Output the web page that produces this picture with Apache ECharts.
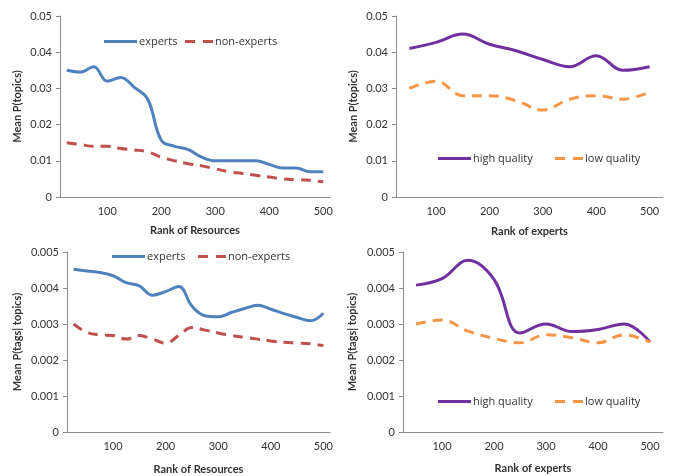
<!DOCTYPE html>
<html><head><meta charset="utf-8">
<script src="https://cdn.jsdelivr.net/npm/echarts@6/dist/echarts.min.js"></script>
<style>html,body{margin:0;padding:0;background:#fff}#c{width:673px;height:476px}</style>
</head><body><div id="c"></div>
<script>
// categories
const ranksResources = ['25','50','75','100','125','150','175','200','225','250','275','300','325','350','375','400','425','450','475','500'];
const ranksExperts = ['50','100','150','200','250','300','350','400','450','500'];
// top-left: Mean P(topics) by rank of resources
const tlExperts = [0.035,0.0345,0.036,0.032,0.033,0.0303,0.027,0.0157,0.014,0.0131,0.011,0.010,0.010,0.010,0.010,0.009,0.008,0.008,0.007,0.007];
const tlNonExperts = [0.015,0.0145,0.014,0.014,0.0134,0.013,0.0125,0.011,0.010,0.0092,0.0086,0.0078,0.0070,0.0065,0.0060,0.0055,0.0050,0.0048,0.0046,0.0042];
// top-right: Mean P(topics) by rank of experts
const trHigh = [0.041,0.0427,0.045,0.0422,0.0404,0.038,0.036,0.039,0.035,0.036];
const trLow = [0.030,0.032,0.028,0.028,0.0266,0.024,0.027,0.028,0.027,0.029];
// bottom-left: Mean P(tags|topics) by rank of resources
const blExperts = [0.00452,0.00447,0.00443,0.00434,0.00415,0.00406,0.0038,0.0039,0.00404,0.0035,0.00323,0.0032,0.00332,0.00343,0.00352,0.00341,0.00329,0.00318,0.00309,0.0033];
const blNonExperts = [0.003,0.00277,0.0027,0.00268,0.00258,0.00268,0.00258,0.00247,0.00268,0.0029,0.00283,0.00275,0.00268,0.00263,0.00258,0.00253,0.00249,0.00247,0.00245,0.0024];
// bottom-right: Mean P(tags|topics) by rank of experts
const brHigh = [0.00408,0.00426,0.00477,0.00424,0.00275,0.003,0.00279,0.00285,0.003,0.0025];
const brLow = [0.003,0.00311,0.0028,0.0026,0.00248,0.0027,0.00262,0.00248,0.0027,0.0025];
// tick labels
const topTicks = {min:0,max:0.05,interval:0.01};
const botTicks = {min:0,max:0.005,interval:0.001};

const FONT = 'Lato';
const LFONT = 'Open Sans';
const TXT = '#333';
const AX = '#8c8c8c';
const BLUE = '#4F81BD', RED = '#C0504D', PURPLE = '#7030A0', ORANGE = '#F79646';
const SOLID_ICON = 'path://M0,0h33v3h-33z';
const DASH_ICON = 'path://M0,0h10v3h-10z M18,0h10v3h-10z';

const grids = [
  {left:60, right:343, top:16, bottom:279},
  {left:396, right:10, top:16, bottom:279},
  {left:67, right:343, top:252, bottom:43},
  {left:403, right:10, top:252, bottom:44}
];
function xAx(idx, cats, name, gap){
  return {type:'category', gridIndex:idx, data:cats, boundaryGap:true,
    name:name, nameLocation:'middle', nameGap:gap,
    nameTextStyle:{fontFamily:FONT,fontSize:11,fontWeight:'bold',color:TXT},
    axisLine:{lineStyle:{color:AX}},
    axisTick:{interval:0, length:4, lineStyle:{color:AX}},
    axisLabel:{interval:(i,v)=> (+v)%100===0, fontFamily:FONT, fontSize:11, color:TXT, margin:9},
    splitLine:{show:false}};
}
function yAx(idx, t, dec, name, gap){
  return {type:'value', gridIndex:idx, min:t.min, max:t.max, interval:t.interval,
    name:name, nameLocation:'middle', nameGap:gap, nameRotate:90,
    nameTextStyle:{fontFamily:FONT,fontSize:11,fontWeight:'bold',color:TXT},
    axisLine:{show:true, lineStyle:{color:AX}},
    axisTick:{show:true, length:4, lineStyle:{color:AX}},
    axisLabel:{formatter:v=> v===0?'0':v.toFixed(dec), fontFamily:FONT, fontSize:11, color:TXT, margin:8},
    splitLine:{show:false}};
}
function ser(name, idx, data, color, dashed){
  return {name:name, type:'line', xAxisIndex:idx, yAxisIndex:idx, data:data, smooth:0.4,
    symbol:'none', lineStyle:{color:color, width:3, type: dashed?[10,7]:'solid'}, itemStyle:{color:color}};
}
function leg(name, dashed, left, cy){
  return {data:[{name:name, icon: dashed?DASH_ICON:SOLID_ICON}], left:left, top:cy-6,
    itemWidth: dashed?28:33, itemHeight:3, padding:0, selectedMode:false,
    textStyle:{fontFamily:LFONT,fontSize:11,color:TXT, padding:[0,0,0,-3]}};
}
const chart = echarts.init(document.getElementById('c'), null, {renderer:'canvas'});
chart.setOption({
  backgroundColor:'#fff',
  animation:false,
  grid:grids,
  legend:[
    leg('experts',false,104,42), leg('non-experts',true,185,42),
    leg('high quality',false,438,159), leg('low quality',true,555,159),
    leg('experts ',false,112,257), leg('non-experts ',true,198,257),
    leg('high quality ',false,438,402), leg('low quality ',true,555,402)
  ],
  xAxis:[xAx(0,ranksResources,'Rank of Resources',28), xAx(1,ranksExperts,'Rank of experts',29),
         xAx(2,ranksResources,'Rank of Resources',32), xAx(3,ranksExperts,'Rank of experts',31)],
  yAxis:[yAx(0,topTicks,2,'Mean P(topics)',37), yAx(1,topTicks,2,'Mean P(topics)',37),
         yAx(2,botTicks,3,'Mean P(tags| topics)',44), yAx(3,botTicks,3,'Mean P(tags| topics)',45)],
  series:[
    ser('experts',0,tlExperts,BLUE,false), ser('non-experts',0,tlNonExperts,RED,true),
    ser('high quality',1,trHigh,PURPLE,false), ser('low quality',1,trLow,ORANGE,true),
    ser('experts ',2,blExperts,BLUE,false), ser('non-experts ',2,blNonExperts,RED,true),
    ser('high quality ',3,brHigh,PURPLE,false), ser('low quality ',3,brLow,ORANGE,true)
  ]
});
</script></body></html>
